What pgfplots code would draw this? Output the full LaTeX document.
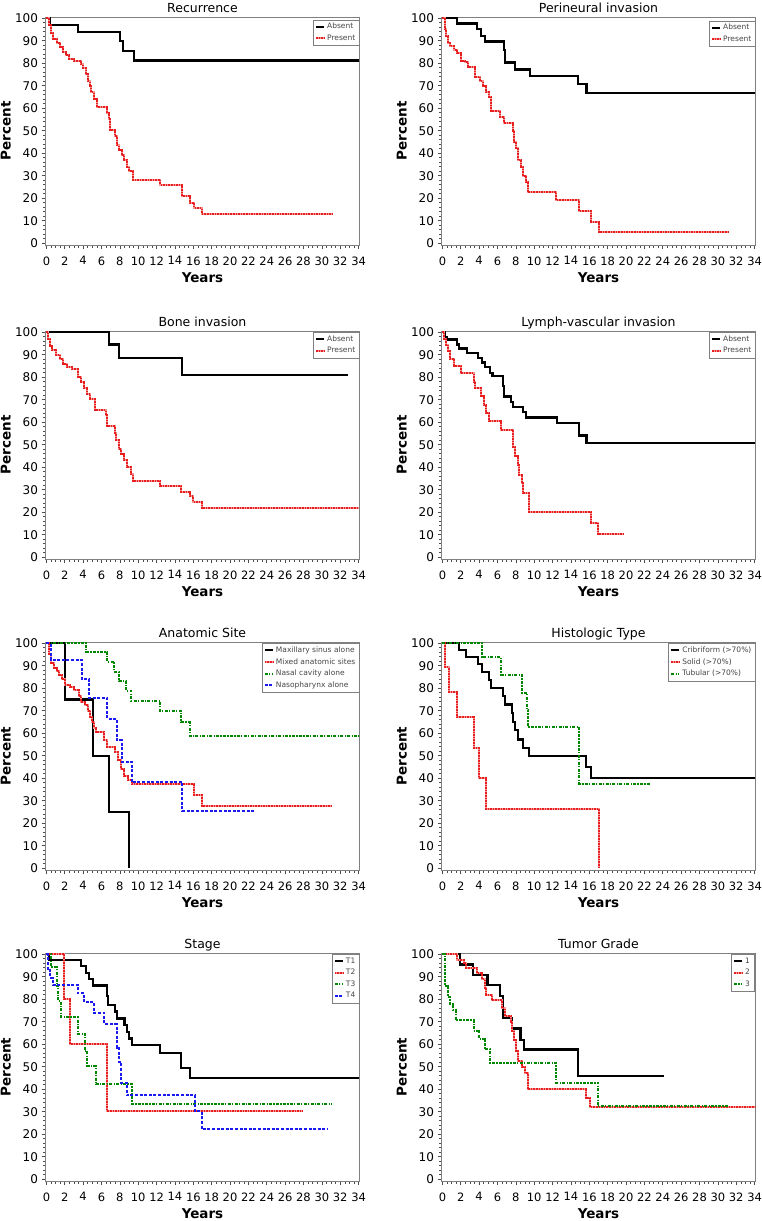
\documentclass[border=0pt]{standalone}
\usepackage{fontspec}
\setmainfont{DejaVu Sans}
\usepackage{pgfplots}
\pgfplotsset{compat=1.18}

\definecolor{kmred}{RGB}{232,30,30}
\definecolor{kmpink}{RGB}{245,150,150}
\definecolor{kmgreen}{RGB}{0,135,0}
\definecolor{kmblue}{RGB}{25,25,240}
\definecolor{legtext}{RGB}{70,70,70}

\pgfplotsset{
  every axis title shift=0pt,
  km/.style={
    width=314pt, height=228pt, scale only axis,
    xmin=-0.1, xmax=34.1, ymin=-0.8, ymax=100.5,
    xtick={0,2,...,34}, ytick={0,10,...,100},
    minor x tick num=3, minor y tick num=4,
    tick align=outside, tick pos=left,
    major tick length=4pt, minor tick length=2.5pt,
    axis line style={gray},
    every tick/.style={gray!60!black, line width=0.6pt},
    /pgf/number format/assume math mode=true,
    xticklabel style={font=\fontsize{11.5}{13}\selectfont, yshift=-4pt},
    yticklabel style={font=\fontsize{12}{13}\selectfont},
    title style={font=\fontsize{12.5}{14}\selectfont, at={(axis description cs:0.5,1.02)}, anchor=base},
    every axis x label/.style={at={(axis description cs:0.5,-0.1636)}, anchor=base, font=\bfseries\fontsize{13.5}{15}\selectfont},
    every axis y label/.style={at={(axis description cs:-0.099,0.5)}, rotate=90, anchor=south, font=\bfseries\fontsize{13.5}{15}\selectfont},
    xlabel=Years, ylabel=Percent,
    legend cell align=left,
    legend style={at={(1,1)}, anchor=north east, yshift=-1pt,
      font=\fontsize{7.5}{9}\selectfont, text=legtext, draw=gray, fill=white,
      inner xsep=2pt, inner ysep=1.5pt, row sep=0.5pt},
    legend image code/.code={\draw[#1] (0pt,0pt) -- (8pt,0pt);},
  },
  kblack/.style={black, line width=2.2pt, const plot},
  kred/.style={kmpink, line width=2pt, const plot, postaction={draw, kmred, line width=2pt, dash pattern=on 1.6pt off 1pt}},
  kgreen/.style={kmgreen, line width=2pt, const plot, dash pattern=on 3pt off 1.3pt on 1.3pt off 1.3pt},
  kblue/.style={kmblue, line width=2pt, const plot, dash pattern=on 3pt off 1.6pt},
}

\begin{document}
\begin{tikzpicture}
\useasboundingbox (0,0) rectangle (761pt,-1221pt);

% Recurrence
\begin{axis}[km, at={(45.5pt,-17pt)}, anchor=north west, title=Recurrence, legend style={yshift=-1.5pt}]
\addplot[kblack] coordinates {(0,100)(0.43,97)(3.45,94)(8.05,90)(8.3,85.3)(9.5,81.2)(34,81.2)};
\addplot[kred] coordinates {(0,100)(0.25,97)(0.45,93.5)(0.7,90.7)(1.2,89)(1.5,87)(1.8,85)(2.1,83.5)(2.5,82)(3.0,81)(3.8,79.5)(4.0,78)(4.3,75)(4.5,72)(4.7,70)(4.9,67)(5.2,64)(5.5,60.5)(6.6,58)(6.8,55)(6.9,50.3)(7.5,47.5)(7.7,43.5)(7.9,41.5)(8.2,39)(8.5,37)(8.8,34)(9.0,32)(9.4,28.3)(12.4,26)(14.8,21)(15.6,18)(16.1,15.7)(16.9,13.1)(31.1,13.1)};
\legend{Absent,Present}
\end{axis}

% Perineural invasion
\begin{axis}[km, at={(441.5pt,-17pt)}, anchor=north west, title=Perineural invasion, legend style={yshift=-2.5pt}]
\addplot[kblack] coordinates {(0,100)(1.6,97.6)(3.8,95.1)(4.2,92)(4.6,89.6)(6.7,86)(6.8,80.3)(7.9,77.2)(9.5,74.2)(14.8,70.6)(15.7,66.6)(34,66.6)};
\addplot[kred] coordinates {(0,100)(0.25,95)(0.4,92)(0.6,89)(0.8,87.5)(1.3,86)(1.6,84.5)(2.0,81)(2.5,80.5)(2.8,78.4)(3.6,74)(4.1,72)(4.4,70)(4.7,67)(5.1,65)(5.3,58.7)(6.3,56)(6.7,53.5)(7.7,50)(7.8,45)(8.0,42.5)(8.2,36.8)(8.6,34)(8.8,30)(9.1,27)(9.3,22.6)(12.4,19.1)(14.9,14.3)(16.2,9.6)(17.0,4.9)(31.1,4.9)};
\legend{Absent,Present}
\end{axis}

% Bone invasion
\begin{axis}[km, at={(45.5pt,-331pt)}, anchor=north west, title=Bone invasion]
\addplot[kblack] coordinates {(0,100)(6.8,94.5)(7.9,88.4)(14.75,81)(32.8,81)};
\addplot[kred] coordinates {(0,100)(0.2,97)(0.4,94)(0.6,92)(1.0,90)(1.5,88)(1.8,86)(2.2,84.5)(2.8,83.5)(3.4,80)(3.8,78)(4.1,75)(4.4,72.5)(4.8,70.5)(5.25,65.4)(6.45,63)(6.6,58.1)(7.5,55)(7.6,52)(7.9,48)(8.1,46)(8.4,43)(8.8,40)(9.2,37)(9.4,33.8)(12.4,31.5)(14.7,29)(15.6,27)(16.0,24.5)(16.9,21.8)(34,21.8)};
\legend{Absent,Present}
\end{axis}

% Lymph-vascular invasion
\begin{axis}[km, at={(441.5pt,-331pt)}, anchor=north west, title=Lymph-vascular invasion]
\addplot[kblack] coordinates {(0,100)(0.25,98)(0.5,96.7)(1.6,94.5)(1.8,92.7)(2.7,90.8)(3.9,88.5)(4.3,86.5)(4.6,84.4)(5.2,82)(5.45,80.4)(6.6,76)(6.7,71.4)(7.5,69)(7.7,66.8)(8.8,64.5)(9.1,62.1)(12.5,59.7)(14.85,54.1)(15.7,50.8)(34,50.8)};
\addplot[kred] coordinates {(0,100)(0.2,97)(0.4,94.5)(0.6,91.5)(0.8,88.2)(1.3,85)(2.0,81.8)(3.4,78)(3.6,75)(4.2,71.5)(4.5,67.5)(4.8,64)(5.1,60.6)(6.35,56.7)(7.7,49)(7.9,45)(8.2,41)(8.3,36.6)(8.7,33)(8.8,28.4)(9.4,20.3)(16.2,15.4)(16.9,10.3)(19.65,10.3)};
\legend{Absent,Present}
\end{axis}

% Anatomic Site
\begin{axis}[km, at={(45.5pt,-642pt)}, anchor=north west, title=Anatomic Site, legend style={yshift=0pt}]
\addplot[kblack] coordinates {(0,100)(2.0,75)(5.1,50)(6.8,25)(9.0,0)};
\addplot[kred] coordinates {(0,100)(0.3,95)(0.5,91)(0.8,89)(1.1,87.5)(1.4,86)(1.7,84)(2.0,81.6)(2.6,80.5)(3.0,79)(3.5,76.5)(3.8,74)(4.2,72.5)(4.5,70)(4.8,67)(5.0,65)(5.2,62.5)(5.4,60.3)(6.3,57)(6.65,54)(7.5,51.5)(7.8,48)(8.1,44.3)(8.5,41)(8.9,39)(9.3,37.2)(16.1,32.5)(16.9,27.7)(31.1,27.7)};
\addplot[kgreen] coordinates {(0,100)(4.35,96.2)(6.6,91.7)(7.4,87.3)(7.9,83.1)(8.7,78.7)(9.25,74.4)(12.4,69.8)(14.7,64.8)(15.6,58.9)(34,58.9)};
\addplot[kblue] coordinates {(0,100)(0.45,92.5)(3.85,84)(4.65,75.6)(6.65,66.3)(7.65,56.8)(8.2,47.3)(9.3,38.2)(14.8,25.4)(22.7,25.4)};
\legend{Maxillary sinus alone,Mixed anatomic sites,Nasal cavity alone,Nasopharynx alone}
\end{axis}

% Histologic Type
\begin{axis}[km, at={(441.5pt,-642pt)}, anchor=north west, title=Histologic Type, legend style={yshift=0pt}]
\addplot[kblack] coordinates {(0,100)(1.8,97)(2.6,94)(3.9,90.7)(4.3,87)(5.1,83.5)(5.3,80.2)(6.6,76.5)(6.8,72.7)(7.55,69)(7.7,65)(7.9,61.4)(8.2,57.2)(8.8,53.5)(9.4,49.7)(15.6,45.1)(16.2,40)(34,40)};
\addplot[kred] coordinates {(0,100)(0.33,89.2)(0.7,78.2)(1.6,67.1)(3.4,53.5)(3.95,40.2)(4.7,26.5)(17.0,0)};
\addplot[kgreen] coordinates {(0,100)(4.3,93.7)(6.4,86)(8.65,77.9)(9.2,70.5)(9.35,62.7)(14.9,37.6)(22.7,37.6)};
\legend{Cribriform (>70\%),Solid (>70\%),Tubular (>70\%)}
\end{axis}

% Stage
\begin{axis}[km, at={(45.5pt,-953pt)}, anchor=north west, title=Stage, legend style={yshift=0pt}]
\addplot[kblack] coordinates {(0,100)(0.3,97.4)(3.8,94.9)(4.3,91.5)(4.6,89)(5.1,86.1)(6.6,81.5)(6.75,77.3)(7.5,74.5)(7.7,71.4)(8.5,68.5)(8.8,65.5)(9.0,62.5)(9.3,59.6)(12.4,56.2)(14.7,49.4)(15.6,45)(34,45)};
\addplot[kred] coordinates {(0,100)(1.95,80.2)(2.6,60.1)(6.65,30.1)(27.9,30.1)};
\addplot[kgreen] coordinates {(0,100)(0.5,94.1)(1.1,86)(1.3,79)(1.6,72)(3.4,64.7)(4.2,57)(4.45,50.4)(5.35,42.1)(9.35,33.4)(31.1,33.4)};
\addplot[kblue] coordinates {(0,100)(0.15,93)(0.4,89.5)(0.7,86.5)(3.4,82.6)(4.1,78.6)(5.2,73.9)(6.3,68.9)(7.65,58.4)(7.9,52)(8.15,42.8)(8.75,37.2)(16.2,30.1)(16.9,22.3)(30.6,22.3)};
\legend{T1,T2,T3,T4}
\end{axis}

% Tumor Grade
\begin{axis}[km, at={(441.5pt,-953pt)}, anchor=north west, title=Tumor Grade, legend style={xshift=-1.5pt, yshift=0pt}]
\addplot[kblack] coordinates {(0,100)(1.93,95.4)(3.3,90.9)(4.9,86.2)(6.3,81.5)(6.6,71.8)(7.6,67)(8.5,62)(8.85,57.6)(14.75,45.9)(24.1,45.9)};
\addplot[kred] coordinates {(0,100)(1.6,97.5)(2.3,96)(2.6,94)(3.8,91.5)(4.3,89)(4.6,85)(4.8,82)(5.4,79.5)(6.5,76)(6.8,72.6)(7.5,70)(7.6,66)(7.8,62)(8.0,57)(8.2,52.7)(8.7,50)(9.0,47)(9.3,39.9)(15.6,36.2)(16.1,31.9)(34,31.9)};
\addplot[kgreen] coordinates {(0,100)(0.3,86)(0.6,81)(0.8,78)(1.2,75)(1.45,70.6)(3.4,66)(4.0,62.5)(4.6,57.7)(5.2,51.6)(12.4,42.9)(16.95,32.4)(31.1,32.4)};
\legend{1,2,3}
\end{axis}
\end{tikzpicture}
\end{document}
